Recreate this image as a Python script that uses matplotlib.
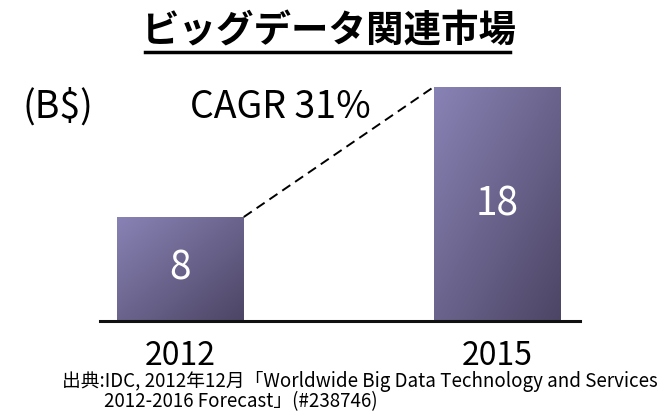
import numpy as np
import matplotlib.pyplot as plt
from matplotlib.colors import LinearSegmentedColormap

years = ["2012", "2015"]
market = [8, 18]
title = "ビッグデータ関連市場"
unit = "(B$)"
cagr = "CAGR 31%"
source1 = "出典:IDC, 2012年12月「Worldwide Big Data Technology and Services"
source2 = "2012-2016 Forecast」(#238746)"

plt.rcParams['font.family'] = ['Noto Sans CJK JP', 'DejaVu Sans']

fig = plt.figure(figsize=(6.67, 4.15), dpi=100)
ax = fig.add_axes([100/667, (415-321)/415, 480/667, 260/415])

x = np.arange(len(years))
w = 0.4
bars = ax.bar(x, market, width=w, color='none', edgecolor='none')

# purple gradient, light top-left -> dark bottom-right
cmap = LinearSegmentedColormap.from_list("p", ["#8883b5", "#4d4565"])
gx, gy = np.meshgrid(np.linspace(0, 1, 100), np.linspace(0, 1, 100))
grad = (gx + gy) / 2
for b in bars:
    x0, y0 = b.get_x(), b.get_y()
    im = ax.imshow(grad, cmap=cmap, extent=[x0, x0 + b.get_width(), y0, y0 + b.get_height()],
                   origin='upper', aspect='auto', zorder=2)
    im.set_clip_path(b)

for xi, v in zip(x, market):
    ax.text(xi, v / 2, str(v), color='white', fontsize=28, ha='center', va='center', zorder=3)

# dashed growth line between bar tops
ax.plot([x[0] + w/2, x[1] - w/2], [market[0], market[1]], ls=(0, (5, 3)), color='black', lw=1.4, zorder=4)

ax.set_xlim(-0.254, 1.262)
ax.set_ylim(0, 20)
ax.set_xticks(x)
ax.set_xticklabels(years, fontsize=23)
ax.tick_params(axis='x', length=0, pad=14)
ax.set_yticks([])
for s in ['top', 'right', 'left']:
    ax.spines[s].set_visible(False)
ax.spines['bottom'].set_linewidth(2.2)
ax.spines['bottom'].set_color('#111111')

fig.text(0.492, 1 - 31/415, title, fontsize=27, fontweight='bold', ha='center', va='center')
fig.add_artist(plt.Line2D([145/667, 510/667], [1 - 52/415] * 2, color='black', lw=2.5))

fig.text(22/667, 1 - 107/415, unit, fontsize=27, ha='left', va='center')
fig.text(190/667, 1 - 107/415, cagr, fontsize=27, ha='left', va='center')

fig.text(62/667, 1 - 381/415, source1, fontsize=13.5, ha='left', va='center')
fig.text(104/667, 1 - 402/415, source2, fontsize=13.5, ha='left', va='center')

fig.savefig("out.png", dpi=100)
